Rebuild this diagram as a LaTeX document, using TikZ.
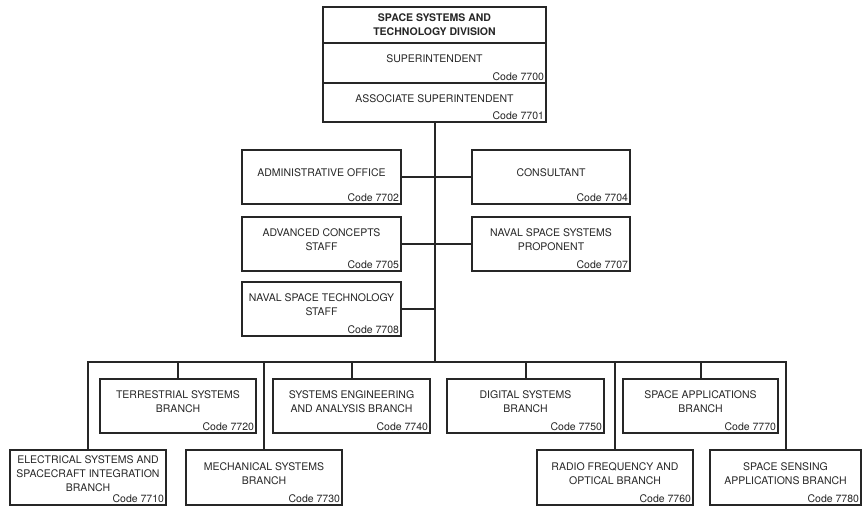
\documentclass[tikz,border=0pt]{standalone}
\usepackage{fontspec}
\setmainfont{TeX Gyre Heros}
\usetikzlibrary{fit}

\begin{document}
\begin{tikzpicture}[
    x=1pt, y=-1pt,
    % --- Styles ---
    % Plain frame, text is placed in separate nodes
    unit box/.style={draw=black!85, line width=1.3pt, inner sep=0pt},
    % Unit name, sits a little above the box centre
    unit text/.style={font=\fontsize{10.5}{14}\selectfont, align=center, text=black!85, yshift=4pt},
    code text/.style={font=\fontsize{10.5}{12}\selectfont, text=black!85, anchor=south east, inner sep=2.5pt},
    title text/.style={font=\fontsize{10.5}{14}\selectfont\bfseries, align=center, text=black!85},
    tie line/.style={draw=black!85, line width=2pt, line cap=rect}
]

% Fixed frame (keeps the page margins)
\useasboundingbox (0,0) rectangle (863,506);

%================CONFIGURATION================
% \busy: height of the horizontal branch bus
\def\busy{362}
%=============================================

% --- 1. Division head ---
\node[unit box, fit={(323,7) (546,43)}] (div) {};
\node[title text] (div-t) at (div.center) {SPACE SYSTEMS AND\\TECHNOLOGY DIVISION};

% --- 2. Offices, staffs and branches ---
% name / left / top / right / bottom / text / code
\foreach \name/\xl/\yt/\xr/\yb/\txt/\code in {
    sup/323/43/546/83/{SUPERINTENDENT}/7700,
    assoc/323/83/546/122/{ASSOCIATE SUPERINTENDENT}/7701,
    admin/242/150/401/204/{ADMINISTRATIVE OFFICE}/7702,
    consult/472/150/630/204/{CONSULTANT}/7704,
    advcon/242/217/401/271/{ADVANCED CONCEPTS\\STAFF}/7705,
    nssp/472/217/630/271/{NAVAL SPACE SYSTEMS\\PROPONENT}/7707,
    nstech/242/282/401/336/{NAVAL SPACE TECHNOLOGY\\STAFF}/7708,
    terr/100/379/256/433/{TERRESTRIAL SYSTEMS\\BRANCH}/7720,
    syseng/273/379/430/433/{SYSTEMS ENGINEERING\\AND ANALYSIS BRANCH}/7740,
    digital/447/379/604/433/{DIGITAL SYSTEMS\\BRANCH}/7750,
    spaceapp/623/379/778/433/{SPACE APPLICATIONS\\BRANCH}/7770,
    elec/10/450/166/505/{ELECTRICAL SYSTEMS AND\\SPACECRAFT INTEGRATION\\BRANCH}/7710,
    mech/186/450/342/505/{MECHANICAL SYSTEMS\\BRANCH}/7730,
    radio/537/450/693/505/{RADIO FREQUENCY AND\\OPTICAL BRANCH}/7760,
    sensing/710/450/861/505/{SPACE SENSING\\APPLICATIONS BRANCH}/7780%
}{
    \node[unit box, fit={(\xl,\yt) (\xr,\yb)}] (\name) {};
    \node[unit text] (\name-t) at (\name.center) {\txt};
    \node[code text] (\name-c) at (\name.south east) {Code \code};
}

% --- 3. Connectors ---
\coordinate (bus) at (assoc.south |- 0,\busy);
\draw[tie line] (assoc.south) -- (bus);
\draw[tie line] (admin.east) -- (consult.west);
\draw[tie line] (advcon.east) -- (nssp.west);
\draw[tie line] (nstech.east) -- (nstech.east -| bus);

% Branch bus and drops
\draw[tie line] (elec.north |- bus) -- (sensing.north |- bus);
\foreach \name in {elec,terr,mech,syseng,digital,radio,spaceapp,sensing}
    \draw[tie line] (\name.north |- bus) -- (\name.north);

\end{tikzpicture}
\end{document}
